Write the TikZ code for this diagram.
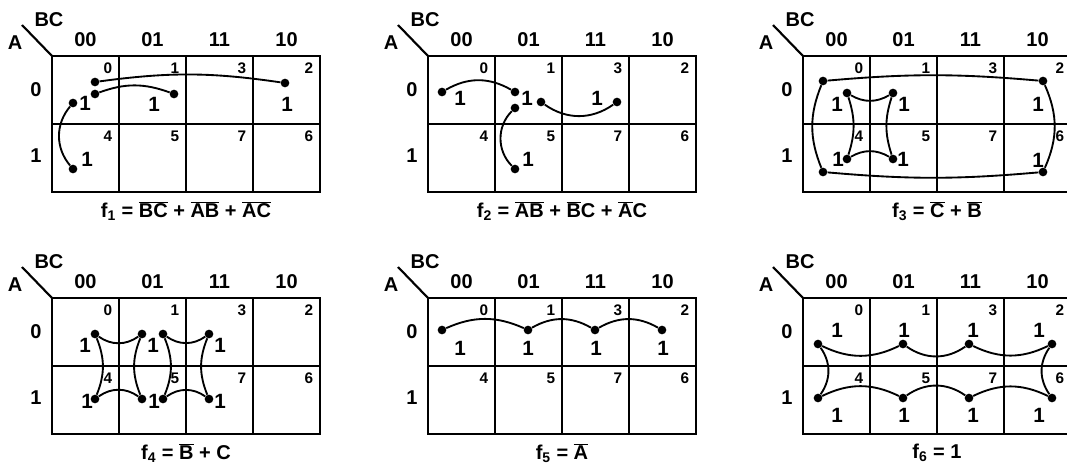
\documentclass[tikz,border=0pt]{standalone}
\usepackage{fontspec}
\setmainfont{Liberation Sans}
\usetikzlibrary{positioning}

\newcommand{\ovl}[1]{$\overline{\mbox{#1}}$}

% one Karnaugh map, top left corner of the grid at (0,0)
\newcommand{\kmap}[2]{%
\draw[grid] (0,0) rectangle (268,-136);
\draw[grid] (67,0) -- (67,-136);
\draw[grid] (134,0) -- (134,-136);
\draw[grid] (201,0) -- (201,-136);
\draw[grid] (0,-68) -- (268,-68);
\draw[grid] (0,0) -- (-30,31);
\node[lbl] (#1bc) at (-3,36) {BC};
\node[lbl] (#1a) at (-37,13) {A};
\node[lbl] (#1c00) at (33.5,16) {00};
\node[lbl] (#1c01) at (100.5,16) {01};
\node[lbl] (#1c11) at (167.5,16) {11};
\node[lbl] (#1c10) at (234.5,16) {10};
\node[lbl] (#1r0) at (-16,-34) {0};
\node[lbl] (#1r1) at (-16,-100) {1};
\foreach \n/\c/\r in {0/0/0,1/1/0,3/2/0,2/3/0,4/0/1,5/1/1,7/2/1,6/3/1}
  \node[num] (#1n\n) at (67*\c+56,-12-68*\r) {\n};
\node[lbl] (#1f) at (134,-155) {#2};
}

\begin{document}
\begin{tikzpicture}[x=0.75pt,y=0.75pt,
  grid/.style={line width=1.6pt},
  lbl/.style={inner sep=0pt,font=\fontsize{15}{17}\selectfont\bfseries},
  num/.style={inner sep=0pt,font=\fontsize{11.5}{13}\selectfont\bfseries},
  one/.style={inner sep=0pt,font=\fontsize{15.5}{17}\selectfont\bfseries},
  dot/.style={circle,fill=black,inner sep=0pt,minimum size=6.5pt},
  link/.style={line width=1.4pt}]
\useasboundingbox (0,0) rectangle (1067,465);

% f1
\begin{scope}[shift={(52,409)}]
\kmap{m1}{f\textsubscript{1} = \ovl{B}\ovl{C} + \ovl{A}\ovl{B} + \ovl{A}\ovl{C}}
\node[dot] (m1a) at (43,-26) {};
\node[dot] (m1b) at (233,-27) {};
\node[dot] (m1c) at (43,-38) {};
\node[dot] (m1d) at (122,-38) {};
\node[dot] (m1e) at (21,-47) {};
\node[dot] (m1f) at (21,-113) {};
\node[one] (m1o0) at (33,-47) {1};
\node[one] (m1o1) at (102,-48) {1};
\node[one] (m1o2) at (235,-48) {1};
\node[one] (m1o4) at (35,-103) {1};
\draw[link] (m1a) to[bend left=8] (m1b);
\draw[link] (m1c) to[bend left=20] (m1d);
\draw[link] (m1e) to[bend right=40] (m1f);
\end{scope}

% f2
\begin{scope}[shift={(428,409)}]
\kmap{m2}{f\textsubscript{2} = \ovl{A}\ovl{B} + \ovl{B}C + \ovl{A}C}
\node[dot] (m2a) at (14,-36) {};
\node[dot] (m2b) at (87,-36) {};
\node[dot] (m2c) at (113,-46) {};
\node[dot] (m2d) at (189,-46) {};
\node[dot] (m2e) at (87,-52) {};
\node[dot] (m2f) at (87,-113) {};
\node[one] (m2o0) at (32,-42) {1};
\node[one] (m2o1) at (99,-42) {1};
\node[one] (m2o3) at (169,-42) {1};
\node[one] (m2o5) at (100,-103) {1};
\draw[link] (m2a) to[bend left=30] (m2b);
\draw[link] (m2c) to[bend right=35] (m2d);
\draw[link] (m2e) to[bend right=45] (m2f);
\end{scope}

% f3
\begin{scope}[shift={(803,409)}]
\kmap{m3}{f\textsubscript{3} = \ovl{C} + \ovl{B}}
\node[dot] (m3p1) at (20,-25) {};
\node[dot] (m3p2) at (240,-25) {};
\node[dot] (m3p3) at (240,-116) {};
\node[dot] (m3p4) at (20,-116) {};
\node[dot] (m3q1) at (44,-37) {};
\node[dot] (m3q2) at (90,-37) {};
\node[dot] (m3q3) at (90,-103) {};
\node[dot] (m3q4) at (44,-103) {};
\node[one] (m3o0) at (34,-48) {1};
\node[one] (m3o1) at (101,-48) {1};
\node[one] (m3o2) at (235,-48) {1};
\node[one] (m3o4) at (35,-103) {1};
\node[one] (m3o5) at (100,-103) {1};
\node[one] (m3o6) at (235,-104) {1};
\draw[link] (m3p1) to[bend left=5] (m3p2);
\draw[link] (m3p2) to[bend left=24] (m3p3);
\draw[link] (m3p3) to[bend left=5] (m3p4);
\draw[link] (m3p4) to[bend left=22] (m3p1);
\draw[link] (m3q1) to[bend right=30] (m3q2);
\draw[link] (m3q2) to[bend right=18] (m3q3);
\draw[link] (m3q3) to[bend right=30] (m3q4);
\draw[link] (m3q4) to[bend right=18] (m3q1);
\end{scope}

% f4
\begin{scope}[shift={(52,167)}]
\kmap{m4}{f\textsubscript{4} = \ovl{B} + C}
\node[dot] (m4r1) at (43,-36) {};
\node[dot] (m4r2) at (90,-36) {};
\node[dot] (m4r3) at (90,-101) {};
\node[dot] (m4r4) at (43,-101) {};
\node[dot] (m4s1) at (111,-36) {};
\node[dot] (m4s2) at (157,-36) {};
\node[dot] (m4s3) at (157,-101) {};
\node[dot] (m4s4) at (111,-101) {};
\node[one] (m4o0) at (33,-47) {1};
\node[one] (m4o1) at (101,-47) {1};
\node[one] (m4o3) at (168,-47) {1};
\node[one] (m4o4) at (35,-103) {1};
\node[one] (m4o5) at (102,-103) {1};
\node[one] (m4o7) at (168,-103) {1};
\draw[link] (m4r1) to[bend right=35] (m4r2);
\draw[link] (m4r2) to[bend right=22] (m4r3);
\draw[link] (m4r3) to[bend right=35] (m4r4);
\draw[link] (m4r4) to[bend right=22] (m4r1);
\draw[link] (m4s1) to[bend right=35] (m4s2);
\draw[link] (m4s2) to[bend right=22] (m4s3);
\draw[link] (m4s3) to[bend right=35] (m4s4);
\draw[link] (m4s4) to[bend right=22] (m4s1);
\end{scope}

% f5
\begin{scope}[shift={(428,167)}]
\kmap{m5}{f\textsubscript{5} = \ovl{A}}
\node[dot] (m5a) at (14,-32) {};
\node[dot] (m5b) at (100,-32) {};
\node[dot] (m5c) at (167,-32) {};
\node[dot] (m5d) at (234,-32) {};
\node[one] (m5o0) at (32,-50) {1};
\node[one] (m5o1) at (100,-50) {1};
\node[one] (m5o3) at (168,-50) {1};
\node[one] (m5o2) at (235,-50) {1};
\draw[link] (m5a) to[bend left=24] (m5b);
\draw[link] (m5b) to[bend left=30] (m5c);
\draw[link] (m5c) to[bend left=30] (m5d);
\end{scope}

% f6
\begin{scope}[shift={(803,167)}]
\kmap{m6}{f\textsubscript{6} = 1}
\node[dot] (m6t1) at (15,-46) {};
\node[dot] (m6t2) at (100,-46) {};
\node[dot] (m6t3) at (166,-46) {};
\node[dot] (m6t4) at (249,-46) {};
\node[dot] (m6b1) at (15,-100) {};
\node[dot] (m6b2) at (100,-100) {};
\node[dot] (m6b3) at (166,-100) {};
\node[dot] (m6b4) at (249,-100) {};
\node[one] (m6o0) at (34,-32) {1};
\node[one] (m6o1) at (101,-32) {1};
\node[one] (m6o3) at (170,-32) {1};
\node[one] (m6o2) at (236,-32) {1};
\node[one] (m6o4) at (34,-117) {1};
\node[one] (m6o5) at (101,-117) {1};
\node[one] (m6o7) at (170,-117) {1};
\node[one] (m6o6) at (236,-117) {1};
\draw[link] (m6t1) to[bend right=26] (m6t2);
\draw[link] (m6t2) to[bend right=35] (m6t3);
\draw[link] (m6t3) to[bend right=26] (m6t4);
\draw[link] (m6t4) to[bend right=35] (m6b4);
\draw[link] (m6b4) to[bend right=26] (m6b3);
\draw[link] (m6b3) to[bend right=35] (m6b2);
\draw[link] (m6b2) to[bend right=26] (m6b1);
\draw[link] (m6b1) to[bend right=35] (m6t1);
\end{scope}

\end{tikzpicture}
\end{document}
